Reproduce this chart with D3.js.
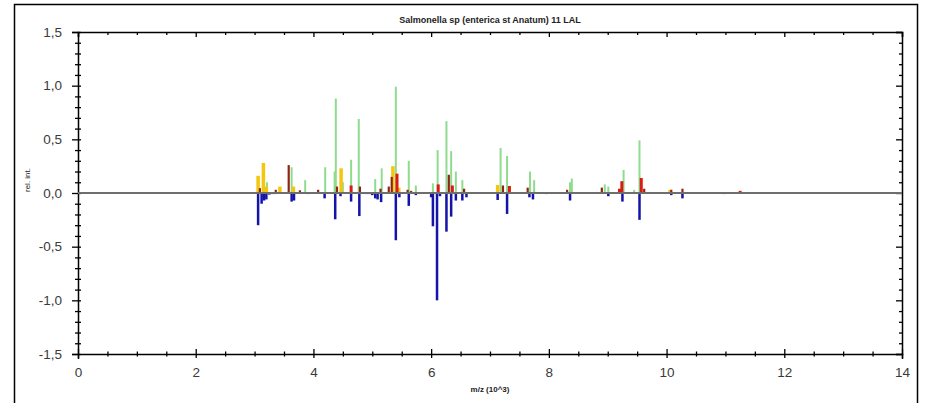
<!DOCTYPE html>
<html>
<head>
<meta charset="utf-8">
<script src="https://cdn.jsdelivr.net/npm/d3@7"></script>
<style>
  body { margin: 0; background: #fff; }
  svg { display: block; font-family: "Liberation Sans", Arial, sans-serif; }
</style>
</head>
<body>
<svg id="chart" width="928" height="403"></svg>
<script>
// peaks as [m/z (10^3), rel. int.]
var greenPeaks = [
  [3.21, 0.10], [3.63, 0.24], [3.86, 0.12], [4.20, 0.24], [4.36, 0.20], [4.38, 0.88],
  [4.50, 0.10], [4.64, 0.31], [4.77, 0.69], [5.05, 0.13], [5.16, 0.23], [5.40, 0.99],
  [5.62, 0.30], [5.74, 0.07], [6.03, 0.09], [6.11, 0.40], [6.26, 0.67], [6.34, 0.39],
  [6.42, 0.20], [6.53, 0.12], [7.18, 0.42], [7.29, 0.345], [7.68, 0.20], [7.75, 0.12],
  [8.36, 0.10], [8.39, 0.135], [8.95, 0.08], [9.01, 0.06], [9.27, 0.215], [9.45, 0.03],
  [9.54, 0.49]
];
var yellowPeaks = [
  [3.06, 0.16], [3.15, 0.28], [3.20, 0.06], [3.43, 0.06], [3.66, 0.06], [4.47, 0.23],
  [5.35, 0.25], [5.45, 0.05], [7.13, 0.075], [10.06, 0.03]
];
var redPeaks = [
  [4.64, 0.07], [5.42, 0.18], [6.12, 0.08], [6.36, 0.07], [7.33, 0.065], [9.20, 0.04],
  [9.24, 0.11], [9.57, 0.14], [11.25, 0.02]
];
var darkRedPeaks = [
  [3.09, 0.045], [3.36, 0.03], [3.58, 0.26], [3.77, 0.025], [4.08, 0.03], [4.40, 0.06],
  [4.79, 0.06], [5.14, 0.04], [5.28, 0.06], [5.33, 0.15], [5.60, 0.03], [5.66, 0.02],
  [6.30, 0.17], [6.56, 0.04], [7.22, 0.07], [7.64, 0.05], [8.31, 0.03], [8.90, 0.05],
  [9.62, 0.04], [10.08, 0.03], [10.27, 0.04]
];
var bluePeaks = [
  [3.06, -0.30], [3.12, -0.10], [3.16, -0.07], [3.20, -0.06], [3.25, -0.015], [3.30, -0.01],
  [3.35, -0.01], [3.63, -0.08], [3.67, -0.07], [3.90, -0.01], [4.19, -0.05], [4.37, -0.245],
  [4.46, -0.03], [4.64, -0.08], [4.78, -0.215], [4.90, -0.01], [4.95, -0.01], [5.00, -0.02],
  [5.05, -0.05], [5.09, -0.06], [5.15, -0.085], [5.40, -0.44], [5.46, -0.04], [5.62, -0.12],
  [5.74, -0.02], [6.00, -0.04], [6.03, -0.31], [6.10, -1.00], [6.15, -0.03], [6.26, -0.36],
  [6.34, -0.22], [6.42, -0.07], [6.53, -0.07], [6.60, -0.04], [7.13, -0.065], [7.29, -0.195],
  [7.67, -0.04], [7.73, -0.06], [7.96, -0.01], [8.36, -0.07], [9.01, -0.03], [9.25, -0.08],
  [9.54, -0.25], [10.08, -0.02], [10.27, -0.05], [10.97, -0.01]
];

var xMajorTicks = [0, 2, 4, 6, 8, 10, 12, 14];
var yMajorTicks = [-1.5, -1.0, -0.5, 0.0, 0.5, 1.0, 1.5];
var titleText = "Salmonella sp (enterica st Anatum) 11 LAL";
var xLabel = "m/z (10^3)";
var yLabel = "rel. int.";

var series = [
  { peaks: greenPeaks,   color: "#8fdc8f", width: 2 },
  { peaks: yellowPeaks,  color: "#f4c60e", width: 3.5 },
  { peaks: redPeaks,     color: "#dc1a14", width: 3 },
  { peaks: darkRedPeaks, color: "#8e2414", width: 2.2 },
  { peaks: bluePeaks,    color: "#1414a8", width: 2.5 }
];

var margin = { left: 78, right: 26, top: 32, bottom: 49 };
var width = 928, height = 403;

var svg = d3.select("#chart");

var x = d3.scaleLinear().domain([0, 14]).range([margin.left, width - margin.right]);
var y = d3.scaleLinear().domain([-1.5, 1.5]).range([height - margin.bottom, margin.top]);

var locale = d3.formatLocale({ decimal: ",", thousands: ".", grouping: [3], currency: ["", ""], minus: "-" });
var fmtY = locale.format(".1f");

// outer frame
svg.append("rect")
    .attr("x", 14.5).attr("y", 4.5)
    .attr("width", 903).attr("height", 430)
    .attr("fill", "none").attr("stroke", "#000").attr("stroke-width", 1.5);

var range = function(a, b, step) {
    return d3.range(Math.round((b - a) / step) + 1).map(function(i) { return +(a + i * step).toFixed(2); });
};
var xMinor = range(0, 14, 0.5).filter(function(v) { return xMajorTicks.indexOf(v) < 0; });
var yMinor = range(-1.5, 1.5, 0.1).filter(function(v) { return yMajorTicks.indexOf(v) < 0; });

var styleAxis = function(g) {
    g.select(".domain").attr("stroke", "#000").attr("stroke-width", 1.5);
    g.selectAll(".tick line").attr("stroke", "#000").attr("stroke-width", 1.3);
    g.selectAll(".tick text").attr("fill", "#3a3a3a").attr("font-size", 13.5);
};

// bottom axis
var gb = svg.append("g").attr("transform", "translate(0," + y(-1.5) + ")")
    .call(d3.axisBottom(x).tickValues(xMajorTicks).tickSize(5).tickPadding(8).tickFormat(d3.format("d")));
styleAxis(gb);
gb.selectAll(".tick line").attr("y1", -5).attr("y2", 4);
svg.append("g").attr("transform", "translate(0," + y(-1.5) + ")")
    .call(d3.axisBottom(x).tickValues(xMinor).tickSize(2.5).tickFormat(""))
    .call(function(g) {
        g.select(".domain").remove();
        g.selectAll(".tick line").attr("y1", -2.5).attr("stroke", "#000").attr("stroke-width", 1.3);
    });

// top axis
var gt = svg.append("g").attr("transform", "translate(0," + y(1.5) + ")")
    .call(d3.axisTop(x).tickValues(xMajorTicks).tickSize(-5).tickFormat(""));
styleAxis(gt);
svg.append("g").attr("transform", "translate(0," + y(1.5) + ")")
    .call(d3.axisTop(x).tickValues(xMinor).tickSize(-3).tickFormat(""))
    .call(function(g) {
        g.select(".domain").remove();
        g.selectAll(".tick line").attr("stroke", "#000").attr("stroke-width", 1.3);
    });

// left axis
var gl = svg.append("g").attr("transform", "translate(" + x(0) + ",0)")
    .call(d3.axisLeft(y).tickValues(yMajorTicks).tickSize(6).tickPadding(10).tickFormat(fmtY));
styleAxis(gl);
gl.selectAll(".tick line").attr("x2", 3);
gl.selectAll(".tick line").attr("x1", -6);
svg.append("g").attr("transform", "translate(" + x(0) + ",0)")
    .call(d3.axisLeft(y).tickValues(yMinor).tickSize(3).tickFormat(""))
    .call(function(g) {
        g.select(".domain").remove();
        g.selectAll(".tick line").attr("x1", 3).attr("stroke", "#000").attr("stroke-width", 1.3);
    });

// right axis
var gr = svg.append("g").attr("transform", "translate(" + x(14) + ",0)")
    .call(d3.axisRight(y).tickValues(yMajorTicks).tickSize(-6).tickFormat(""));
styleAxis(gr);
svg.append("g").attr("transform", "translate(" + x(14) + ",0)")
    .call(d3.axisRight(y).tickValues(yMinor).tickSize(-3).tickFormat(""))
    .call(function(g) {
        g.select(".domain").remove();
        g.selectAll(".tick line").attr("stroke", "#000").attr("stroke-width", 1.3);
    });

// peaks
series.forEach(function(s) {
    svg.append("g").selectAll("rect")
        .data(s.peaks)
      .enter()
        .append("rect")
        .attr("x", function(d) { return x(d[0]) - s.width / 2; })
        .attr("y", function(d) { return y(Math.max(0, d[1])); })
        .attr("width", s.width)
        .attr("height", function(d) { return Math.abs(y(d[1]) - y(0)); })
        .attr("fill", s.color);
});

// zero line
svg.append("line")
    .attr("x1", x(0)).attr("x2", x(14))
    .attr("y1", y(0)).attr("y2", y(0))
    .attr("stroke", "#6e6e6e").attr("stroke-width", 2);

// texts
svg.append("text")
    .attr("x", (x(0) + x(14)) / 2).attr("y", 23)
    .attr("text-anchor", "middle")
    .attr("font-size", 9).attr("font-weight", "bold").attr("fill", "#222")
    .text(titleText);

svg.append("text")
    .attr("x", (x(0) + x(14)) / 2).attr("y", 392)
    .attr("text-anchor", "middle")
    .attr("font-size", 8).attr("font-weight", "bold").attr("fill", "#222")
    .text(xLabel);

svg.append("text")
    .attr("transform", "translate(30," + 180 + ") rotate(-90)")
    .attr("text-anchor", "middle")
    .attr("font-size", 8).attr("fill", "#222")
    .text(yLabel);
</script>
</body>
</html>
